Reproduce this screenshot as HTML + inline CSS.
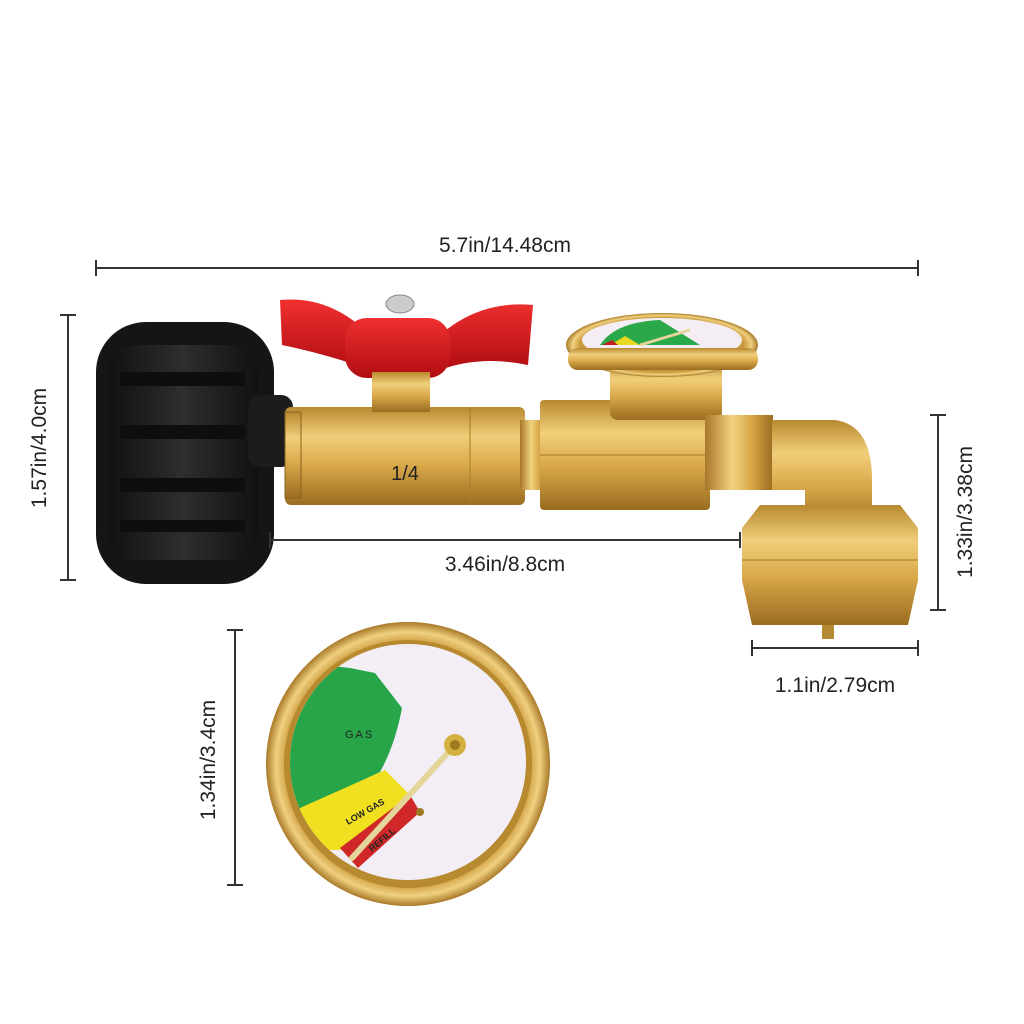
<!DOCTYPE html>
<html><head><meta charset="utf-8"><style>
html,body{margin:0;padding:0;background:#fff;}
svg{display:block;}
text{font-family:"Liberation Sans",sans-serif;fill:#222;}
</style></head><body>
<svg width="1024" height="1024" viewBox="0 0 1024 1024" xmlns="http://www.w3.org/2000/svg">
<defs>
<linearGradient id="brass" x1="0" y1="0" x2="0" y2="1">
<stop offset="0" stop-color="#b8892f"/><stop offset="0.3" stop-color="#f0cf7a"/><stop offset="0.6" stop-color="#d9a849"/><stop offset="1" stop-color="#9a6c20"/></linearGradient>
<linearGradient id="brassH" x1="0" y1="0" x2="1" y2="0">
<stop offset="0" stop-color="#a8782a"/><stop offset="0.4" stop-color="#f2d37f"/><stop offset="0.7" stop-color="#d6a444"/><stop offset="1" stop-color="#9a6c20"/></linearGradient>
<linearGradient id="red" x1="0" y1="0" x2="0" y2="1">
<stop offset="0" stop-color="#f03030"/><stop offset="1" stop-color="#b00d12"/></linearGradient>
<linearGradient id="blk" x1="0" y1="0" x2="1" y2="0">
<stop offset="0" stop-color="#111"/><stop offset="0.5" stop-color="#2e2e2e"/><stop offset="1" stop-color="#111"/></linearGradient>
<radialGradient id="rim" cx="0.5" cy="0.5" r="0.5">
<stop offset="0.85" stop-color="#c99a3c"/><stop offset="0.93" stop-color="#f0d080"/><stop offset="1" stop-color="#a87a28"/></radialGradient>
</defs>

<text x="505" y="252" font-size="21" text-anchor="middle">5.7in/14.48cm</text>
<line x1="96" y1="268" x2="918" y2="268" stroke="#333" stroke-width="2"/>
<line x1="96" y1="260" x2="96" y2="276" stroke="#333" stroke-width="2"/>
<line x1="918" y1="260" x2="918" y2="276" stroke="#333" stroke-width="2"/>

<line x1="68" y1="315" x2="68" y2="580" stroke="#333" stroke-width="2"/>
<line x1="60" y1="315" x2="76" y2="315" stroke="#333" stroke-width="2"/>
<line x1="60" y1="580" x2="76" y2="580" stroke="#333" stroke-width="2"/>
<text transform="translate(46,448) rotate(-90)" font-size="21" text-anchor="middle">1.57in/4.0cm</text>

<rect x="96" y="322" width="178" height="262" rx="50" fill="#151515"/>
<rect x="108" y="345" width="150" height="215" rx="30" fill="url(#blk)"/>
<rect x="120" y="372" width="125" height="14" fill="#0e0e0e"/>
<rect x="120" y="425" width="125" height="14" fill="#0e0e0e"/>
<rect x="120" y="478" width="125" height="14" fill="#0e0e0e"/>
<rect x="120" y="520" width="125" height="12" fill="#0e0e0e"/>
<rect x="248" y="395" width="45" height="72" rx="12" fill="#1c1c1c"/>

<rect x="285" y="407" width="240" height="98" rx="6" fill="url(#brass)"/>
<rect x="285" y="412" width="16" height="86" fill="url(#brass)" stroke="#8a6020"/>
<line x1="470" y1="407" x2="470" y2="505" stroke="#a87a28"/>
<text x="405" y="480" font-size="20" fill="#8a6020" text-anchor="middle">1/4</text>
<path d="M280 300 Q330 295 370 335 L440 335 Q480 300 533 305 L528 365 Q480 355 440 370 L370 370 Q330 355 282 345 Z" fill="url(#red)"/>
<rect x="345" y="318" width="105" height="60" rx="22" fill="url(#red)"/>
<ellipse cx="400" cy="304" rx="14" ry="9" fill="#ccc" stroke="#888"/>
<rect x="372" y="372" width="58" height="40" fill="url(#brass)"/>

<rect x="520" y="420" width="28" height="70" fill="url(#brassH)"/>
<rect x="540" y="400" width="170" height="110" rx="4" fill="url(#brass)"/>
<line x1="540" y1="455" x2="710" y2="455" stroke="#a87a28"/>
<rect x="610" y="362" width="112" height="58" rx="8" fill="url(#brass)"/>
<ellipse cx="662" cy="345" rx="96" ry="32" fill="url(#rim)"/>
<ellipse cx="662" cy="340" rx="80" ry="22" fill="#f4eef4"/>
<path d="M600 345 Q615 322 660 320 L700 345 Z" fill="#2aa84a"/>
<path d="M610 345 L625 336 L640 345 Z" fill="#e8d820"/>
<path d="M602 345 L612 340 L618 345 Z" fill="#c02020"/>
<line x1="690" y1="330" x2="640" y2="345" stroke="#e6d59a" stroke-width="3"/>
<rect x="568" y="348" width="190" height="22" rx="10" fill="url(#brass)"/>

<rect x="705" y="415" width="68" height="75" fill="url(#brassH)"/>
<path d="M772 420 L835 420 Q872 425 872 480 L872 530 L805 530 L805 490 L772 490 Z" fill="url(#brass)"/>
<path d="M742 528 L760 505 L900 505 L918 528 L918 580 L908 625 L752 625 L742 580 Z" fill="url(#brass)"/>
<line x1="742" y1="560" x2="918" y2="560" stroke="#a87a28"/>
<rect x="822" y="625" width="12" height="14" fill="#b58a35"/>

<line x1="270" y1="540" x2="740" y2="540" stroke="#333" stroke-width="2"/>
<line x1="270" y1="532" x2="270" y2="548" stroke="#333" stroke-width="2"/>
<line x1="740" y1="532" x2="740" y2="548" stroke="#333" stroke-width="2"/>
<text x="505" y="571" font-size="21" text-anchor="middle">3.46in/8.8cm</text>

<line x1="938" y1="415" x2="938" y2="610" stroke="#333" stroke-width="2"/>
<line x1="930" y1="415" x2="946" y2="415" stroke="#333" stroke-width="2"/>
<line x1="930" y1="610" x2="946" y2="610" stroke="#333" stroke-width="2"/>
<text transform="translate(972,512) rotate(-90)" font-size="21" text-anchor="middle">1.33in/3.38cm</text>

<line x1="752" y1="648" x2="918" y2="648" stroke="#333" stroke-width="2"/>
<line x1="752" y1="640" x2="752" y2="656" stroke="#333" stroke-width="2"/>
<line x1="918" y1="640" x2="918" y2="656" stroke="#333" stroke-width="2"/>
<text x="835" y="692" font-size="21" text-anchor="middle">1.1in/2.79cm</text>

<line x1="235" y1="630" x2="235" y2="885" stroke="#333" stroke-width="2"/>
<line x1="227" y1="630" x2="243" y2="630" stroke="#333" stroke-width="2"/>
<line x1="227" y1="885" x2="243" y2="885" stroke="#333" stroke-width="2"/>
<text transform="translate(215,760) rotate(-90)" font-size="21" text-anchor="middle">1.34in/3.4cm</text>

<circle cx="408" cy="764" r="142" fill="url(#rim)"/>
<circle cx="408" cy="764" r="124" fill="#b88a30"/>
<circle cx="408" cy="762" r="118" fill="#f3eef6"/>
<clipPath id="face"><circle cx="408" cy="762" r="118"/></clipPath>
<g clip-path="url(#face)">
<path d="M280 660 L350 668 L375 673 L402 708 Q395 745 380 772 L300 810 L280 810 Z" fill="#27a548"/>
<path d="M300 808 L385 770 L410 795 L340 850 L300 850 Z" fill="#f0e020"/>
<path d="M340 848 L410 795 L420 812 L358 868 Z" fill="#d02828"/>
</g>
<text x="345" y="738" font-size="11" fill="#133" letter-spacing="2">GAS</text>
<text transform="translate(348,825) rotate(-30)" font-size="9" font-weight="bold" fill="#222">LOW GAS</text>
<text transform="translate(372,852) rotate(-40)" font-size="9" font-weight="bold" fill="#fff">REFILL</text>
<line x1="455" y1="745" x2="352" y2="858" stroke="#e6d59a" stroke-width="6" stroke-linecap="round"/>
<circle cx="455" cy="745" r="11" fill="#d4b040"/>
<circle cx="455" cy="745" r="5" fill="#a07820"/>
<circle cx="420" cy="812" r="4" fill="#a07820"/>
</svg>
</body></html>
